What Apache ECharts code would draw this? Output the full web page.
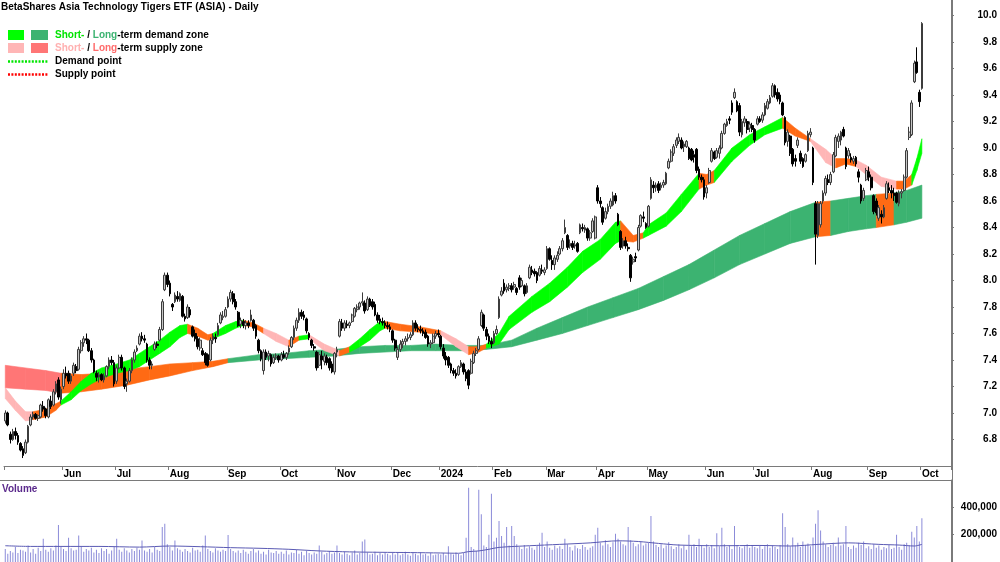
<!DOCTYPE html>
<html><head><meta charset="utf-8">
<script src="https://cdn.jsdelivr.net/npm/echarts@6/dist/echarts.min.js"></script>
<style>html,body{margin:0;padding:0;background:#fff}#c{width:1000px;height:562px}</style>
</head><body><div id="c"></div>
<script>
// ---- DATA ----
// daily bars [open, high, low, close], 1 May 2023 .. 1 Oct 2024
const priceBars = [
// May 2023
[6.94,7.02,6.92,7.00],[7.00,7.01,6.90,6.91],[6.84,6.86,6.77,6.80],[6.80,6.88,6.79,6.86],[6.86,6.89,6.80,6.83],[6.83,6.85,6.76,6.78],[6.77,6.78,6.71,6.72],[6.73,6.75,6.66,6.68],[6.70,6.80,6.69,6.78],[6.78,6.91,6.77,6.90],
[6.91,6.99,6.90,6.97],[6.97,7.01,6.95,6.99],[6.99,7.00,6.95,6.96],[6.96,6.99,6.94,6.98],[6.97,7.07,6.96,7.06],[7.05,7.09,7.01,7.03],[7.03,7.04,6.96,6.98],[6.97,7.11,6.96,7.10],[7.09,7.13,7.03,7.05],[7.06,7.18,7.05,7.16],
[7.16,7.24,7.14,7.22],[7.25,7.27,7.10,7.12],[7.10,7.20,7.07,7.18],
// Jun
[7.20,7.33,7.18,7.30],[7.30,7.35,7.26,7.28],[7.30,7.32,7.22,7.24],[7.24,7.30,7.22,7.28],[7.30,7.38,7.28,7.36],[7.35,7.37,7.30,7.32],[7.33,7.50,7.32,7.48],[7.47,7.55,7.45,7.53],[7.53,7.58,7.50,7.56],[7.56,7.60,7.52,7.55],
[7.55,7.56,7.46,7.47],[7.47,7.49,7.38,7.40],[7.40,7.41,7.30,7.31],[7.30,7.32,7.24,7.27],[7.27,7.31,7.23,7.29],[7.29,7.30,7.24,7.25],[7.25,7.30,7.23,7.28],[7.28,7.36,7.27,7.35],[7.35,7.42,7.33,7.40],[7.40,7.43,7.36,7.38],
[7.38,7.40,7.20,7.22],
// Jul
[7.24,7.36,7.22,7.34],[7.34,7.44,7.33,7.42],[7.42,7.44,7.32,7.34],[7.34,7.35,7.18,7.20],[7.22,7.26,7.16,7.24],[7.24,7.34,7.23,7.32],[7.32,7.42,7.30,7.40],[7.40,7.48,7.38,7.46],[7.47,7.51,7.46,7.49],[7.52,7.60,7.51,7.58],
[7.58,7.61,7.54,7.56],[7.56,7.59,7.53,7.55],[7.52,7.53,7.38,7.40],[7.40,7.42,7.33,7.36],[7.36,7.39,7.33,7.37],[7.48,7.54,7.47,7.52],[7.52,7.54,7.49,7.51],[7.55,7.65,7.54,7.63],[7.63,7.86,7.62,7.84],[7.93,8.06,7.92,8.04],
[8.04,8.06,7.95,7.97],
// Aug
[7.98,8.00,7.88,7.90],[7.82,7.83,7.77,7.80],[7.84,7.91,7.83,7.89],[7.88,7.92,7.84,7.86],[7.85,7.91,7.84,7.90],[7.88,7.89,7.72,7.73],[7.73,7.75,7.69,7.71],[7.72,7.82,7.71,7.80],[7.78,7.80,7.72,7.74],[7.65,7.66,7.57,7.58],
[7.60,7.63,7.54,7.56],[7.56,7.58,7.48,7.50],[7.49,7.57,7.47,7.55],[7.47,7.49,7.43,7.44],[7.45,7.46,7.36,7.38],[7.44,7.45,7.35,7.36],[7.40,7.57,7.39,7.55],[7.55,7.60,7.52,7.58],[7.57,7.60,7.53,7.56],[7.59,7.68,7.58,7.66],
[7.68,7.76,7.67,7.74],[7.72,7.77,7.70,7.73],[7.73,7.80,7.72,7.78],
// Sep
[7.80,7.88,7.79,7.86],[7.86,7.93,7.84,7.91],[7.90,7.92,7.82,7.84],[7.84,7.86,7.78,7.80],[7.76,7.77,7.65,7.66],[7.67,7.72,7.64,7.70],[7.69,7.71,7.64,7.66],[7.66,7.70,7.63,7.68],[7.68,7.70,7.64,7.66],[7.70,7.78,7.69,7.74],
[7.70,7.71,7.62,7.64],[7.66,7.67,7.56,7.58],[7.55,7.56,7.45,7.47],[7.47,7.48,7.39,7.41],[7.32,7.48,7.29,7.46],[7.46,7.48,7.40,7.42],[7.43,7.47,7.39,7.45],[7.44,7.45,7.35,7.37],[7.38,7.44,7.37,7.42],[7.42,7.45,7.40,7.43],
[7.43,7.44,7.38,7.40],
// Oct
[7.40,7.46,7.39,7.44],[7.44,7.47,7.41,7.42],[7.42,7.46,7.40,7.45],[7.46,7.51,7.44,7.49],[7.50,7.58,7.49,7.57],[7.57,7.66,7.55,7.64],[7.64,7.72,7.62,7.70],[7.70,7.79,7.68,7.76],[7.76,7.78,7.71,7.73],[7.74,7.77,7.70,7.72],
[7.71,7.72,7.60,7.62],[7.60,7.61,7.55,7.57],[7.55,7.56,7.49,7.51],[7.50,7.52,7.47,7.49],[7.46,7.47,7.32,7.34],[7.36,7.46,7.34,7.44],[7.43,7.47,7.33,7.40],[7.39,7.45,7.36,7.43],[7.42,7.44,7.36,7.38],[7.41,7.42,7.32,7.34],
[7.37,7.39,7.30,7.31],[7.31,7.46,7.29,7.45],
// Nov
[7.46,7.50,7.42,7.48],[7.58,7.71,7.57,7.69],[7.68,7.71,7.62,7.64],[7.64,7.70,7.62,7.68],[7.67,7.70,7.64,7.66],[7.66,7.69,7.64,7.68],[7.69,7.75,7.68,7.74],[7.73,7.80,7.72,7.79],[7.78,7.82,7.76,7.80],[7.80,7.84,7.78,7.83],
[7.83,7.91,7.81,7.84],[7.83,7.85,7.75,7.77],[7.78,7.88,7.77,7.86],[7.86,7.87,7.80,7.81],[7.84,7.86,7.78,7.80],[7.82,7.84,7.73,7.74],[7.74,7.76,7.68,7.70],[7.71,7.74,7.67,7.69],[7.69,7.72,7.66,7.68],[7.68,7.70,7.64,7.66],
[7.66,7.69,7.63,7.65],[7.65,7.67,7.61,7.63],
// Dec
[7.62,7.63,7.53,7.55],[7.55,7.56,7.47,7.49],[7.42,7.50,7.40,7.48],[7.48,7.55,7.46,7.52],[7.52,7.56,7.49,7.54],[7.54,7.58,7.51,7.56],[7.56,7.60,7.54,7.57],[7.57,7.61,7.55,7.59],[7.59,7.70,7.58,7.68],[7.68,7.70,7.62,7.64],
[7.64,7.67,7.61,7.63],[7.63,7.66,7.60,7.62],[7.62,7.64,7.58,7.60],[7.61,7.63,7.56,7.57],[7.58,7.59,7.50,7.52],[7.52,7.55,7.49,7.53],[7.53,7.60,7.52,7.58],[7.58,7.62,7.56,7.60],[7.60,7.63,7.57,7.59],
// Jan 2024
[7.58,7.59,7.48,7.50],[7.49,7.52,7.41,7.43],[7.43,7.46,7.36,7.40],[7.42,7.43,7.34,7.36],[7.37,7.38,7.30,7.32],[7.32,7.34,7.28,7.30],[7.30,7.33,7.26,7.28],[7.29,7.36,7.28,7.35],[7.35,7.40,7.34,7.38],[7.37,7.38,7.29,7.31],
[7.31,7.33,7.24,7.26],[7.32,7.33,7.18,7.21],[7.30,7.41,7.29,7.39],[7.38,7.47,7.37,7.45],[7.45,7.49,7.43,7.47],[7.48,7.58,7.47,7.56],[7.66,7.78,7.65,7.76],[7.74,7.75,7.62,7.64],[7.63,7.65,7.55,7.58],[7.58,7.60,7.52,7.54],
[7.54,7.57,7.49,7.52],
// Feb
[7.53,7.62,7.52,7.60],[7.60,7.66,7.59,7.63],[7.72,7.88,7.71,7.86],[7.89,7.95,7.88,7.92],[7.98,8.01,7.90,7.92],[7.93,7.97,7.91,7.95],[7.94,7.98,7.92,7.96],[7.96,7.98,7.91,7.93],[7.95,7.99,7.93,7.97],[7.94,7.95,7.89,7.91],
[8.02,8.04,7.93,7.95],[7.96,8.02,7.95,8.00],[7.96,7.97,7.88,7.90],[7.91,7.98,7.90,7.96],[8.02,8.12,8.01,8.10],[8.08,8.11,8.04,8.06],[8.07,8.09,8.03,8.05],[8.06,8.07,7.98,8.00],[8.04,8.11,8.03,8.09],[8.08,8.12,8.05,8.07],
[8.06,8.10,8.04,8.08],
// Mar
[8.09,8.26,8.08,8.24],[8.24,8.25,8.15,8.16],[8.15,8.19,8.08,8.12],[8.12,8.19,8.08,8.17],[8.16,8.22,8.14,8.19],[8.20,8.26,8.19,8.24],[8.24,8.32,8.22,8.30],[8.36,8.46,8.35,8.40],[8.34,8.35,8.23,8.25],[8.26,8.31,8.24,8.28],
[8.28,8.30,8.23,8.25],[8.26,8.30,8.24,8.27],[8.28,8.29,8.21,8.22],[8.36,8.43,8.35,8.42],[8.40,8.43,8.37,8.39],[8.38,8.42,8.36,8.40],[8.39,8.40,8.30,8.32],[8.32,8.38,8.30,8.36],[8.37,8.47,8.36,8.45],[8.32,8.49,8.31,8.48],
// Apr
[8.70,8.72,8.58,8.60],[8.60,8.63,8.55,8.58],[8.55,8.56,8.42,8.44],[8.47,8.55,8.46,8.52],[8.52,8.58,8.50,8.56],[8.56,8.62,8.54,8.60],[8.57,8.67,8.56,8.64],[8.64,8.66,8.58,8.60],[8.50,8.51,8.41,8.42],[8.37,8.38,8.23,8.25],
[8.26,8.32,8.24,8.30],[8.30,8.33,8.24,8.26],[8.25,8.28,8.22,8.24],[8.19,8.20,7.99,8.02],[8.14,8.18,8.12,8.16],[8.18,8.21,8.14,8.17],[8.23,8.42,8.22,8.40],[8.41,8.50,8.40,8.49],[8.48,8.52,8.44,8.47],[8.43,8.44,8.39,8.40],
// May
[8.41,8.57,8.40,8.56],[8.62,8.78,8.61,8.76],[8.72,8.75,8.66,8.70],[8.70,8.74,8.67,8.72],[8.73,8.75,8.66,8.68],[8.70,8.74,8.68,8.72],[8.72,8.76,8.70,8.74],[8.73,8.82,8.72,8.81],[8.85,8.92,8.84,8.90],[8.90,8.99,8.89,8.97],
[8.96,9.03,8.94,9.01],[9.02,9.08,9.00,9.06],[9.05,9.11,9.03,9.08],[9.06,9.08,8.99,9.00],[9.01,9.05,8.97,9.03],[9.01,9.06,9.00,9.05],[9.00,9.01,8.91,8.92],[8.99,9.00,8.90,8.91],[8.95,8.98,8.89,8.93],[8.99,9.00,8.81,8.83],
[8.84,8.86,8.76,8.78],[8.78,8.80,8.74,8.76],[8.76,8.78,8.61,8.63],
// Jun
[8.66,8.72,8.62,8.70],[8.74,8.85,8.73,8.83],[8.90,9.00,8.89,8.98],[8.97,8.98,8.91,8.92],[8.93,9.00,8.92,8.98],[8.96,9.02,8.92,9.00],[9.00,9.13,8.99,9.11],[9.11,9.19,9.10,9.18],[9.17,9.22,9.16,9.20],[9.22,9.24,9.18,9.21],
[9.34,9.36,9.25,9.27],[9.38,9.45,9.37,9.42],[9.35,9.36,9.27,9.28],[9.32,9.34,9.09,9.12],[9.10,9.22,9.08,9.20],[9.19,9.24,9.16,9.22],[9.20,9.22,9.11,9.14],[9.15,9.20,9.12,9.18],[9.17,9.19,9.12,9.14],
// Jul
[9.14,9.15,9.04,9.06],[9.18,9.24,9.17,9.22],[9.22,9.24,9.19,9.20],[9.21,9.27,9.19,9.25],[9.25,9.34,9.24,9.32],[9.30,9.37,9.29,9.35],[9.34,9.40,9.33,9.38],[9.39,9.49,9.38,9.47],[9.47,9.48,9.38,9.40],[9.42,9.45,9.35,9.37],
[9.40,9.42,9.33,9.35],[9.34,9.35,9.24,9.25],[9.23,9.24,9.02,9.04],[9.05,9.14,9.01,9.12],[9.09,9.10,8.94,8.96],[8.99,9.00,8.86,8.88],[8.92,8.95,8.86,8.90],[9.02,9.08,9.00,9.06],[8.96,8.98,8.88,8.90],[8.92,8.93,8.85,8.86],
[8.90,8.96,8.89,8.95],[8.98,9.13,8.97,9.11],[9.10,9.15,9.08,9.12],
// Aug
[9.00,9.01,8.72,8.74],[8.58,8.60,8.12,8.35],[8.34,8.60,8.32,8.58],[8.42,8.60,8.40,8.58],[8.60,8.68,8.58,8.66],[8.66,8.79,8.64,8.77],[8.76,8.80,8.72,8.74],[8.74,8.82,8.72,8.80],[8.82,8.97,8.81,8.95],[8.94,9.10,8.93,9.08],
[9.05,9.11,9.00,9.09],[9.06,9.13,9.02,9.12],[9.14,9.16,9.08,9.09],[9.00,9.01,8.84,8.86],[8.94,9.00,8.92,8.98],[8.93,8.96,8.89,8.91],[8.90,8.94,8.88,8.92],[8.93,8.94,8.86,8.88],[8.82,8.84,8.74,8.78],[8.72,8.73,8.58,8.60],
[8.62,8.70,8.60,8.68],[8.76,8.85,8.75,8.83],
// Sep
[8.82,8.86,8.75,8.78],[8.78,8.80,8.68,8.70],[8.64,8.65,8.50,8.52],[8.60,8.62,8.49,8.51],[8.47,8.57,8.45,8.55],[8.50,8.53,8.43,8.48],[8.48,8.57,8.47,8.55],[8.62,8.75,8.61,8.73],[8.70,8.74,8.66,8.68],[8.68,8.72,8.62,8.66],
[8.66,8.70,8.60,8.64],[8.66,8.67,8.58,8.59],[8.58,8.68,8.56,8.66],[8.66,8.69,8.62,8.67],[8.68,8.80,8.67,8.78],[8.78,9.00,8.77,8.98],[9.08,9.16,9.06,9.12],[9.10,9.36,9.09,9.34],[9.50,9.66,9.49,9.64],[9.65,9.76,9.56,9.57],
[9.42,9.44,9.31,9.35],
// Oct
[9.45,9.95,9.44,9.94]
];

// daily volume (thousands of units)
const volumes = [
95,60,80,70,110,65,90,85,75,120,70,95,60,105,80,171,90,75,100,85,120,271,110,
95,80,178,100,85,90,193,110,75,95,85,105,70,90,65,100,80,95,60,85,110,
171,90,75,100,85,70,95,80,105,90,157,85,75,95,70,110,90,80,257,279,130,
110,85,157,100,90,75,95,80,70,105,85,90,75,120,193,95,80,70,100,85,75,90,80,
198,95,80,70,85,65,90,75,60,80,95,70,85,60,75,55,90,70,65,80,60,
75,60,85,55,70,65,90,60,75,50,80,65,55,70,60,121,75,55,65,80,60,70,
120,65,55,75,60,50,70,85,55,65,150,164,70,55,60,75,50,65,55,70,60,50,
65,55,70,50,60,75,55,45,65,60,50,70,55,60,45,65,50,55,60,
55,65,50,115,60,55,70,60,50,65,178,543,110,95,80,529,350,120,110,200,500,
150,178,300,190,140,257,120,264,190,130,110,95,125,100,115,105,90,120,140,214,110,
150,105,90,120,100,115,95,171,130,110,85,120,100,95,125,110,90,105,115,200,
250,140,120,160,130,110,145,207,170,150,130,120,257,160,140,115,130,150,120,135,
140,336,150,125,110,130,100,120,145,115,95,110,130,100,120,90,200,115,130,110,171,120,105,
130,110,125,100,210,115,250,130,110,120,95,264,125,110,100,115,130,105,120,
110,100,125,95,115,130,105,120,110,95,125,357,257,130,115,180,120,140,110,150,125,135,115,
180,279,379,230,150,130,110,125,140,115,180,120,130,264,110,95,120,105,140,125,150,100,
115,95,130,105,120,90,110,100,125,95,105,200,110,90,130,140,120,221,180,264,150,
321
];

// volume average line, read at these bar positions (thousands)
const volAvgIdx = [0,10,22,37,53,65,77,89,101,112,124,136,148,160,172,179,183,187,191,195,207,219,231,242,250,258,266,282,298,310,321,333,345,353,359,362];
const volAvg    = [119,114,114,114,109,117,112,105,100,93,81,74,71,69,66,64,76,81,93,107,119,129,140,155,150,136,124,119,121,117,129,140,129,124,117,129];

// short-term zone edges read at bar positions; colour of the segment that starts there
const stIdx = [0,4,8,11,16,20,22,26,30,34,38,44,49,53,57,61,65,69,72,76,80,82,87,91,94,98,102,107,112,116,120,126,132,136,140,144,148,150,156,164,172,178,183,187,190,195,199,208,215,222,228,235,241,243,248,252,254,261,267,274,277,280,287,294,300,307,312,318,324,328,332,336,340,346,352,355,358,360,362];
const stHi  = [7.19,7.09,7.01,7.01,7.03,7.07,7.09,7.16,7.24,7.30,7.34,7.37,7.40,7.45,7.50,7.55,7.61,7.66,7.67,7.64,7.59,7.60,7.66,7.69,7.70,7.68,7.64,7.60,7.55,7.58,7.59,7.52,7.47,7.50,7.56,7.63,7.69,7.69,7.67,7.65,7.62,7.56,7.50,7.50,7.52,7.60,7.73,7.88,7.98,8.10,8.22,8.31,8.44,8.45,8.34,8.36,8.42,8.51,8.65,8.81,8.80,8.83,9.00,9.10,9.16,9.23,9.15,9.07,8.99,8.92,8.92,8.91,8.87,8.78,8.75,8.75,8.80,8.92,9.07];
const stLo  = [7.11,7.02,6.94,6.95,6.97,7.02,7.06,7.10,7.17,7.22,7.26,7.30,7.32,7.35,7.40,7.45,7.50,7.57,7.60,7.58,7.55,7.56,7.60,7.64,7.66,7.65,7.60,7.54,7.50,7.55,7.56,7.47,7.43,7.46,7.50,7.55,7.62,7.64,7.62,7.61,7.59,7.50,7.44,7.46,7.49,7.52,7.63,7.76,7.84,7.95,8.06,8.16,8.28,8.30,8.29,8.32,8.34,8.41,8.52,8.69,8.72,8.74,8.90,9.02,9.10,9.15,9.09,9.05,8.89,8.85,8.88,8.86,8.80,8.71,8.69,8.69,8.72,8.83,8.96];
const stCol = ['p','p','p','o','o','o','g','g','g','g','g','g','g','g','g','g','g','g','o','o','o','g','g','g','o','o','p','p','o','g','p','p','o','g','g','g','g','o','o','o','p','p','o','o','g','g','g','g','g','g','g','g','g','o','o','g','g','g','g','o','o','g','g','g','g','o','o','p','p','o','o','p','p','p','o','o','g','g','g'];

// long-term zone edges
const ltIdx = [0,8,16,22,30,38,48,57,65,74,82,88,100,110,120,130,140,150,160,170,180,190,200,210,220,230,240,250,260,270,280,290,300,310,320,326,333,340,344,351,356,362];
const ltHi  = [7.36,7.34,7.32,7.30,7.29,7.30,7.33,7.35,7.37,7.38,7.39,7.41,7.44,7.45,7.47,7.48,7.50,7.51,7.51,7.52,7.51,7.51,7.55,7.64,7.72,7.80,7.87,7.94,8.03,8.12,8.23,8.34,8.43,8.52,8.59,8.60,8.62,8.64,8.65,8.66,8.68,8.72];
const ltLo  = [7.19,7.18,7.17,7.15,7.16,7.18,7.21,7.25,7.28,7.32,7.35,7.38,7.40,7.41,7.42,7.43,7.45,7.46,7.47,7.47,7.47,7.48,7.50,7.55,7.60,7.66,7.72,7.78,7.85,7.93,8.02,8.12,8.20,8.28,8.33,8.34,8.37,8.39,8.40,8.42,8.44,8.47];
const ltCol = ['s','s','s','o','o','o','o','o','o','o','o','G','G','G','G','G','G','G','G','G','G','G','G','G','G','G','G','G','G','G','G','G','G','G','o','G','G','G','o','G','G','G'];

// month boundaries (bar index) and their labels
const monthStartIdx = [0,23,44,65,88,109,131,153,172,193,214,234,254,277,296,319,341,362];
const monthLabels   = ['May','Jun','Jul','Aug','Sep','Oct','Nov','Dec','2024','Feb','Mar','Apr','May','Jun','Jul','Aug','Sep','Oct'];
const priceTickValues = [6.8,7.0,7.2,7.4,7.6,7.8,8.0,8.2,8.4,8.6,8.8,9.0,9.2,9.4,9.6,9.8,10.0];
const asxHolidays = ['2023-06-12','2023-12-25','2023-12-26','2024-01-01','2024-01-26','2024-03-29','2024-04-01','2024-04-25','2024-06-10'];
const emptyDaysAfter = 11;

// ---- BUILD ----
if (priceBars.length !== volumes.length) throw new Error('length mismatch ' + priceBars.length + ' ' + volumes.length);
const hol = new Set(asxHolidays);
const cats = [];
let t = Date.UTC(2023, 4, 1);
while (cats.length < priceBars.length + emptyDaysAfter) {
  const d = new Date(t), wd = d.getUTCDay(), s = d.toISOString().slice(0, 10);
  if (wd !== 0 && wd !== 6 && !hol.has(s)) cats.push(s);
  t += 86400000;
}
const monthSet = new Set(monthStartIdx);
const FONT = '"Liberation Sans", Arial, sans-serif';
const AX = '#7a7a7a';
const BAND = {g:'#00ff00', o:'#ff6a14', p:'#ffb6b6', G:'#3cb371', s:'#ff7676'};

function bandSeries(idx, hi, lo, col, z) {
  const rows = [];
  for (let k = 0; k < idx.length - 1; k++) rows.push([idx[k], hi[k], lo[k], idx[k+1], hi[k+1], lo[k+1], k]);
  return {
    type: 'custom', xAxisIndex: 0, yAxisIndex: 0, z: z, silent: true, clip: true,
    data: rows, encode: {x: [0, 3], y: [1, 2, 4, 5]},
    renderItem: function (params, api) {
      const a = api.coord([api.value(0), api.value(1)]);
      const b = api.coord([api.value(3), api.value(4)]);
      const c = api.coord([api.value(3), api.value(5)]);
      const d = api.coord([api.value(0), api.value(2)]);
      const f = BAND[col[api.value(6)]];
      return {type: 'polygon', shape: {points: [a, b, c, d]}, style: {fill: f, stroke: f, lineWidth: 0.6}};
    }
  };
}

const txt = {fontFamily: FONT, fontSize: 10, fontWeight: 'bold', color: '#000'};
const legendFont = 'bold 10px ' + FONT;
function richText(x, y, text, rich) {
  return {type: 'text', x: x, y: y, style: {text: text, font: legendFont, fill: '#000', verticalAlign: 'middle', rich: rich}};
}
// price axis: 6.6 at the x-axis line (y=466), 132.5 px per dollar
const PRICE_MIN = 6.6, PX_PER_UNIT = 132.5, PRICE_GRID_H = 466;
const PRICE_MAX = PRICE_MIN + PRICE_GRID_H / PX_PER_UNIT;

const option = {
  animation: false,
  backgroundColor: '#ffffff',
  title: {text: 'BetaShares Asia Technology Tigers ETF (ASIA) - Daily', left: 1, top: 2, padding: 0,
          textStyle: {fontFamily: FONT, fontSize: 10, fontWeight: 'bold', color: '#000'}},
  grid: [
    {left: 4, top: 0, width: 948, height: PRICE_GRID_H},
    {left: 4, top: 480, width: 948, height: 84}
  ],
  xAxis: [
    {type: 'category', gridIndex: 0, data: cats, boundaryGap: true,
     axisLine: {show: true, lineStyle: {color: AX, width: 1}},
     axisTick: {show: true, interval: function (i) { return monthSet.has(i); }, length: 4, lineStyle: {color: AX}},
     axisLabel: Object.assign({}, txt, {interval: function (i) { return monthSet.has(i) && i > 0; },
       formatter: function (v, i) { return monthLabels[monthStartIdx.indexOf(i)] || ''; }, align: 'left', margin: 3}),
     splitLine: {show: false}},
    {type: 'category', gridIndex: 1, data: cats, boundaryGap: true, show: false}
  ],
  yAxis: [
    {type: 'value', gridIndex: 0, position: 'right', min: PRICE_MIN, max: PRICE_MAX,
     axisLine: {show: true, lineStyle: {color: AX}},
     axisTick: {show: true, length: 3, lineStyle: {color: AX}, customValues: priceTickValues},
     axisLabel: Object.assign({}, txt, {align: 'right', margin: 46, customValues: priceTickValues,
       formatter: function (v) { return (+v).toFixed(1); }}),
     splitLine: {show: false}},
    {type: 'value', gridIndex: 1, position: 'right', min: 0, max: 600, interval: 200,
     axisLine: {show: true, lineStyle: {color: AX}}, axisTick: {show: true, length: 3, lineStyle: {color: AX}},
     axisLabel: Object.assign({}, txt, {align: 'right', margin: 46, showMinLabel: false, showMaxLabel: false,
       formatter: function (v) { return (v * 1000).toLocaleString('en-US'); }}),
     splitLine: {show: false}}
  ],
  series: [
    bandSeries(ltIdx, ltHi, ltLo, ltCol, 1),
    bandSeries(stIdx, stHi, stLo, stCol, 2),
    {type: 'candlestick', xAxisIndex: 0, yAxisIndex: 0, z: 5, barWidth: 2.2, silent: true,
     data: priceBars.map(function (b) { return [b[0], b[3], b[2], b[1]]; }),
     itemStyle: {color: '#c6c6c6', color0: '#000000', borderColor: '#3c3c3c', borderColor0: '#000000', borderWidth: 1}},
    {type: 'bar', xAxisIndex: 1, yAxisIndex: 1, data: volumes, barWidth: 1, silent: true,
     itemStyle: {color: '#8b8bd9'}},
    {type: 'line', xAxisIndex: 1, yAxisIndex: 1, data: volAvgIdx.map(function (i, k) { return [i, volAvg[k]]; }),
     smooth: 0.3, showSymbol: false, silent: true, z: 4, lineStyle: {color: '#5a5ab4', width: 1}}
  ],
  graphic: [
    {type: 'line', shape: {x1: 0, y1: 480.5, x2: 952, y2: 480.5}, style: {stroke: AX, lineWidth: 1}, z: 10},
    {type: 'line', shape: {x1: 952.5, y1: 0, x2: 952.5, y2: 562}, style: {stroke: AX, lineWidth: 1}, z: 10},
    {type: 'rect', shape: {x: 8, y: 30, width: 16, height: 10}, style: {fill: BAND.g}},
    {type: 'rect', shape: {x: 31, y: 30, width: 17, height: 10}, style: {fill: BAND.G}},
    {type: 'rect', shape: {x: 8, y: 43, width: 16, height: 10}, style: {fill: BAND.p}},
    {type: 'rect', shape: {x: 31, y: 43, width: 17, height: 10}, style: {fill: BAND.s}},
    {type: 'line', shape: {x1: 8, y1: 61.5, x2: 48, y2: 61.5}, style: {stroke: '#00e600', lineWidth: 2.5, lineDash: [2, 1.4]}},
    {type: 'line', shape: {x1: 8, y1: 74.5, x2: 48, y2: 74.5}, style: {stroke: '#ff0000', lineWidth: 2.5, lineDash: [2, 1.4]}},
    richText(55, 35, '{a|Short-} / {b|Long}-term demand zone',
      {a: {fill: '#00e400', font: legendFont}, b: {fill: '#3cb371', font: legendFont}}),
    richText(55, 48, '{a|Short-} / {b|Long}-term supply zone',
      {a: {fill: '#ffb0b0', font: legendFont}, b: {fill: '#ff6b6b', font: legendFont}}),
    {type: 'text', x: 55, y: 61.5, style: {text: 'Demand point', font: legendFont, fill: '#000', verticalAlign: 'middle'}},
    {type: 'text', x: 55, y: 74.5, style: {text: 'Supply point', font: legendFont, fill: '#000', verticalAlign: 'middle'}},
    {type: 'text', x: 2, y: 489, style: {text: 'Volume', font: legendFont, fill: '#5b2a8c', verticalAlign: 'middle'}}
  ]
};
const chart = echarts.init(document.getElementById('c'));
chart.setOption(option);
</script>
</body></html>
